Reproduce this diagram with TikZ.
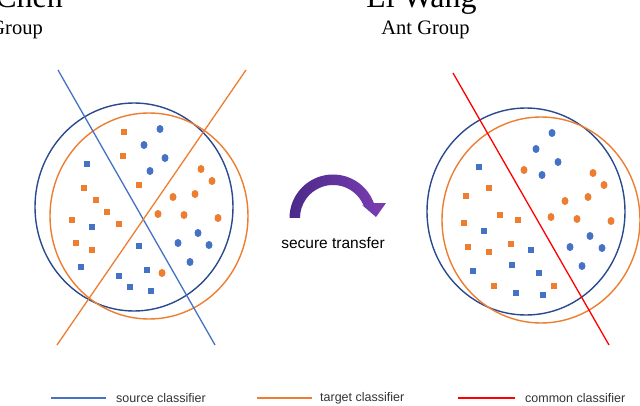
\documentclass[tikz,border=0pt]{standalone}
\usepackage{fontspec}
\setmainfont{Liberation Serif}
\setsansfont{Liberation Sans}
\usepackage{xcolor}
\usetikzlibrary{positioning,shapes.geometric}
\definecolor{ringblue}{HTML}{2A4A8E}
\definecolor{ptblue}{HTML}{4472C4}
\definecolor{ptorange}{HTML}{ED7D31}
\definecolor{arrowdark}{HTML}{4B2A8A}
\definecolor{arrowlight}{HTML}{7B3DB2}

\begin{document}
\begin{tikzpicture}[x=1pt, y=-1pt, font=\sffamily,
		who/.style={font=\rmfamily\fontsize{32}{38}\selectfont, inner sep=0pt},
		org/.style={font=\rmfamily\fontsize{20.5}{24}\selectfont, inner sep=0pt},
		sq/.style={rectangle, minimum size=6pt, inner sep=0pt},
		osq/.style={sq, fill=ptorange}, bsq/.style={sq, fill=ptblue},
		dot/.style={ellipse, minimum width=7pt, minimum height=8pt, inner sep=0pt},
		odot/.style={dot, fill=ptorange}, bdot/.style={dot, fill=ptblue},
		ring/.style={line width=1.4pt},
		cls/.style={line width=1.3pt},
		lgdln/.style={line width=1.8pt},
		lgd/.style={font=\sffamily\fontsize{12.5}{15}\selectfont, text=black!80, inner sep=0pt}]
		\useasboundingbox (0,0) rectangle (640,406);
		\node[who, anchor=base east] (chen) at (63,8) {Chen};
		\node[org, anchor=base east] (grpa) at (43,35) {Group};
		\node[who, anchor=base] (wang) at (421.5,8) {Li Wang};
		\node[org, anchor=base] (grpb) at (425.5,35) {Ant Group};
		\draw[ring, ringblue] (134,207) ellipse [x radius=99pt, y radius=104pt];
		\draw[ring, ptorange] (149,216) ellipse [x radius=99pt, y radius=103pt];
		\coordinate (srcA) at (58,70);
		\coordinate (srcB) at (215,345);
		\coordinate (tgtA) at (246,70);
		\coordinate (tgtB) at (57,345);
		\draw[cls, ptblue] (srcA) -- (srcB);
		\draw[cls, ptorange] (tgtA) -- (tgtB);
		\draw[ring, ringblue] (526,211.5) ellipse [x radius=99pt, y radius=103.5pt];
		\draw[ring, ptorange] (541,220) ellipse [x radius=99pt, y radius=103pt];
		\coordinate (comA) at (453,73);
		\coordinate (comB) at (609,345);
		\draw[cls, red] (comA) -- (comB);
		\foreach \x/\y [count=\n] in {124/132,123/156,139/185,84/188,96/200,107/212,72/220,119/224,76/243,92/250}
			\node[osq] (lsqo\n) at (\x,\y) {};
		\foreach \x/\y [count=\n] in {87/164,92/227,81/267,139/246,147/270,119/276,130/287,151/291}
			\node[bsq] (lsqb\n) at (\x,\y) {};
		\foreach \x/\y [count=\n] in {160/129,144/145,165/158,150/171,198/233,178/243,209/245,190/262}
			\node[bdot] (ldotb\n) at (\x,\y) {};
		\foreach \x/\y [count=\n] in {201/169,212/181,173/197,195/194,158/214,184/215,218/218,162/273}
			\node[odot] (ldoto\n) at (\x,\y) {};
		\foreach \x/\y [count=\n] in {489/188,466/196,500/215,518/220,464/223,468/247,489/252,511/244,494/286,554/286}
			\node[osq] (rsqo\n) at (\x,\y) {};
		\foreach \x/\y [count=\n] in {479/167,484/231,531/250,512/265,539/273,473/271,516/293,543/295}
			\node[bsq] (rsqb\n) at (\x,\y) {};
		\foreach \x/\y [count=\n] in {552/133,536/149,558/162,542/175,590/236,602/248,570/247,582/266}
			\node[bdot] (rdotb\n) at (\x,\y) {};
		\foreach \x/\y [count=\n] in {524/170,593/173,604/185,565/201,588/197,551/217,577/219,611/221}
			\node[odot] (rdoto\n) at (\x,\y) {};
		\path[left color=arrowdark, right color=arrowlight] (289.5,218) arc[start angle=180, end angle=20, radius=43.5pt] -- (386,203) -- (376,217) -- (362,205) -- (364,206.7) arc[start angle=20, end angle=180, radius=33pt] -- cycle;
		\node[font=\sffamily\fontsize{15.5}{18}\selectfont, anchor=base, inner sep=0pt] (xfer) at (333,248) {secure transfer};
		\coordinate (srcL) at (51,398);
		\coordinate[right=55pt of srcL] (srcR);
		\node[lgd, right=10pt of srcR] (srcT) {source classifier};
		\draw[lgdln, ptblue] (srcL) -- (srcR);
		\coordinate (tgtL) at (257,398);
		\coordinate[right=55pt of tgtL] (tgtR);
		\node[lgd, right=8pt of tgtR] (tgtT) {target classifier};
		\draw[lgdln, ptorange] (tgtL) -- (tgtR);
		\coordinate (comL) at (458,398);
		\coordinate[right=57pt of comL] (comR);
		\node[lgd, right=10pt of comR] (comT) {common classifier};
		\draw[lgdln, red] (comL) -- (comR);
	\end{tikzpicture}
\end{document}
